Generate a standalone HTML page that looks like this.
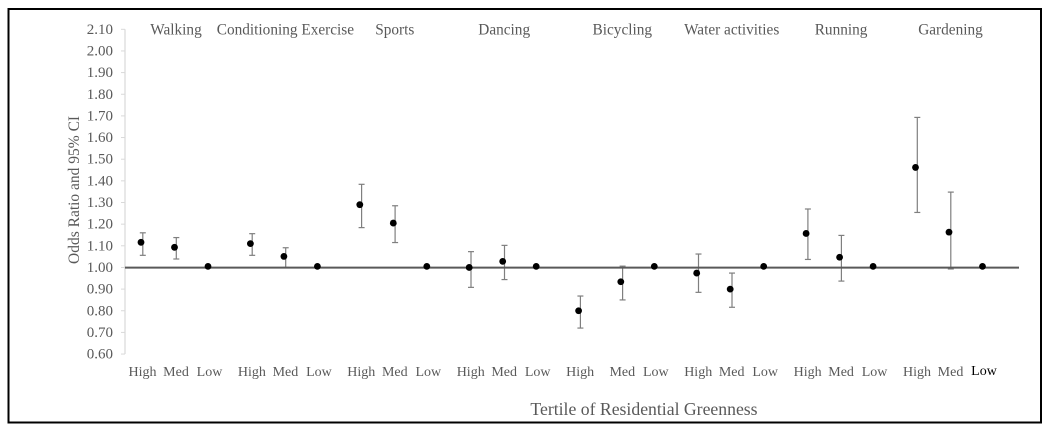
<!DOCTYPE html>
<html lang="en">
<head>
<meta charset="utf-8">
<title>Odds Ratio by Tertile of Residential Greenness</title>
<style>
html,body{margin:0;padding:0;background:#fff;width:1050px;height:432px;overflow:hidden}
svg{display:block;font-family:"Liberation Serif",serif;filter:blur(0.35px)}
text{fill:#595959}
</style>
</head>
<body>
<svg id="chart" width="1050" height="432" viewBox="0 0 1050 432">
  <rect x="8.5" y="9" width="1032.5" height="413.5" fill="#fff" stroke="#000" stroke-width="2"/>
  <text x="0" y="0" transform="translate(79,264) rotate(-90)" font-size="15.5" text-anchor="start">Odds Ratio and 95% CI</text>
  <text x="644" y="415" font-size="17.7" text-anchor="middle">Tertile of Residential Greenness</text>
</svg>
<script>
const activities = ['Walking', 'Conditioning Exercise', 'Sports', 'Dancing', 'Bicycling', 'Water activities', 'Running', 'Gardening'];
const tertiles = ['High', 'Med', 'Low'];
const yTicks = [0.6, 0.7, 0.8, 0.9, 1.0, 1.1, 1.2, 1.3, 1.4, 1.5, 1.6, 1.7, 1.8, 1.9, 2.0, 2.1];
const oddsRatio = [
  1.116, 1.093, 1.005,
  1.110, 1.051, 1.005,
  1.290, 1.205, 1.005,
  1.000, 1.028, 1.005,
  0.800, 0.934, 1.005,
  0.974, 0.900, 1.005,
  1.157, 1.047, 1.005,
  1.462, 1.163, 1.005
];
const ciUpper = [
  1.160, 1.138, null,
  1.156, 1.091, null,
  1.384, 1.285, null,
  1.073, 1.102, null,
  0.868, 1.006, null,
  1.062, 0.974, null,
  1.270, 1.148, null,
  1.693, 1.348, null
];
const ciLower = [
  1.056, 1.039, null,
  1.056, 1.000, null,
  1.184, 1.115, null,
  0.908, 0.944, null,
  0.720, 0.850, null,
  0.885, 0.816, null,
  1.037, 0.937, null,
  1.254, 0.993, null
];
const referenceValue = 1.0;

const NS = 'http://www.w3.org/2000/svg';
const svg = document.getElementById('chart');
function yScale(v) { return 29.3 + (2.1 - v) * 216.5; }
function xScale(i) {
  const group = Math.floor(i / 3);
  const tier = i % 3;
  return 141 + group * 109.4 + tier * 33.5 + (i > 12 ? 8.7 : 0);
}
function add(tag, attrs, text) {
  const el = document.createElementNS(NS, tag);
  for (const k in attrs) el.setAttribute(k, attrs[k]);
  if (text !== undefined) el.textContent = text;
  svg.appendChild(el);
  return el;
}
const axisLeft = 125;
const axisRight = 1019;

let el = add('line', {x1: axisLeft, x2: axisLeft, y1: yScale(2.1), y2: yScale(0.6), stroke: '#d9d9d9', 'stroke-width': 1.2});



yTicks.forEach(function (t) {
  const tick = add('line', {x1: axisLeft - 4, x2: axisLeft, y1: yScale(t), y2: yScale(t), stroke: '#d9d9d9', 'stroke-width': 1});
  
  
  const label = add('text', {x: 113, y: yScale(t) + 4.5, 'font-size': 15, 'text-anchor': 'end'}, t.toFixed(2));
  
  
});

activities.forEach(function (name, g) {
  const label = add('text', {x: xScale(g * 3 + 1) + 1.5, y: 34.5, 'font-size': 15.3, 'text-anchor': 'middle'}, name);
  
  
});

oddsRatio.forEach(function (v, i) {
  const x = xScale(i);
  const barX = x + 1.8;
  const isLast = i === oddsRatio.length - 1;
  const label = add('text', {x: barX - 0.3, y: isLast ? 375 : 376, 'font-size': 14, 'text-anchor': 'middle'}, tertiles[i % 3]);
  if (isLast) label.style.fill = '#000';
  
  

  if (ciUpper[i] !== null) {
    const top = yScale(ciUpper[i]);
    const bot = yScale(ciLower[i]);
    const stem = add('line', {x1: barX, x2: barX, y1: top, y2: bot, stroke: '#7f7f7f', 'stroke-width': 1.2});
    
    
    const capTop = add('line', {x1: barX - 3, x2: barX + 3, y1: top, y2: top, stroke: '#7f7f7f', 'stroke-width': 1.2});
    
    
    const capBot = add('line', {x1: barX - 3, x2: barX + 3, y1: bot, y2: bot, stroke: '#7f7f7f', 'stroke-width': 1.2});
    
    
  }
});

el = add('line', {x1: axisLeft, x2: axisRight, y1: yScale(referenceValue) + 0.2, y2: yScale(referenceValue) + 0.2, stroke: '#595959', 'stroke-width': 2});



oddsRatio.forEach(function (v, i) {
  const dot = add('circle', {cx: xScale(i), cy: yScale(v), r: 3.4, fill: '#000'});
  
  
});
</script>
</body>
</html>
